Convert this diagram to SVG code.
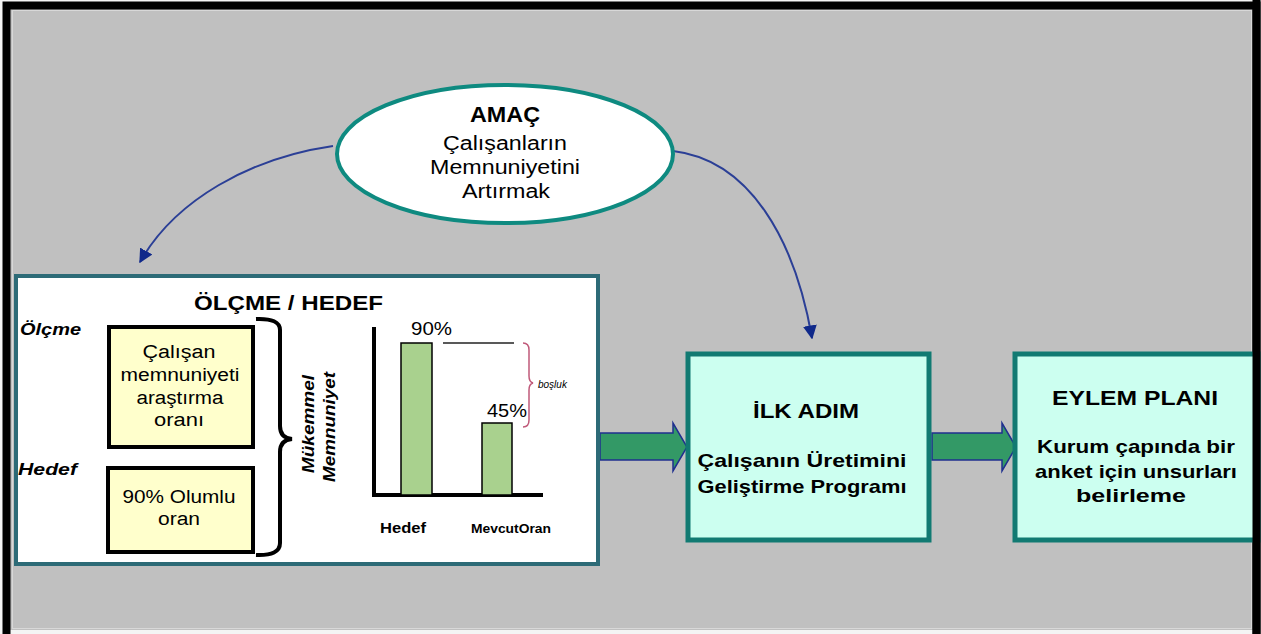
<svg xmlns="http://www.w3.org/2000/svg" width="1261" height="634" viewBox="0 0 1261 634">
<defs>
<style>
text{font-family:"Liberation Sans",Arial,sans-serif;fill:#000}
.b{font-weight:bold}
.c{text-anchor:middle}
.lbl{font-weight:bold;font-style:italic;font-size:17px}
.box{fill:#ffffcc;stroke:#000;stroke-width:4}
.bar{fill:#a9d18e;stroke:#000;stroke-width:1.5}
.step{fill:#ccfff0;stroke:#117a72;stroke-width:5}
.conn{fill:none;stroke:#2b3f96;stroke-width:2}
.fat{fill:#339966;stroke:#1f2f8f;stroke-width:1.5}
</style>
<marker id="ahb" viewBox="0 0 10 10" refX="9" refY="5" markerWidth="14" markerHeight="14" orient="auto" markerUnits="userSpaceOnUse">
<path d="M0,0 L10,5 L0,10 z" fill="#10298a"/>
</marker>
</defs>
<!-- background / frame -->
<rect x="0" y="0" width="1261" height="634" fill="#f4f4f4"/>
<rect x="7" y="6" width="1249" height="624" fill="#c0c0c0"/>
<rect x="12.5" y="10.5" width="1239" height="618" fill="none" stroke="#d8d8d8" stroke-width="1"/>
<path d="M6.5,634 V5.5 H1256.5 V634" fill="none" stroke="#000" stroke-width="8"/>

<g id="connectors">
<path class="conn" d="M333,146 C250,158 175,200 140,262" marker-end="url(#ahb)"/>
<path class="conn" d="M673,151 C750,160 795,240 812,338" marker-end="url(#ahb)"/>
<path class="fat" d="M600,433 H673 V423 L687,447 L673,471 V460 H600 Z"/>
<path class="fat" d="M932,433 H1002 V423 L1016,447 L1002,471 V460 H932 Z"/>
</g>

<g id="amac">
<ellipse cx="505" cy="154" rx="168" ry="69" fill="#ffffff" stroke="#0e8a80" stroke-width="4"/>
<text class="b c" x="505" y="122" font-size="22" textLength="70" lengthAdjust="spacingAndGlyphs">AMAÇ</text>
<text class="c" x="505" y="150" font-size="20" textLength="124" lengthAdjust="spacingAndGlyphs">Çalışanların</text>
<text class="c" x="505" y="174" font-size="20" textLength="150" lengthAdjust="spacingAndGlyphs">Memnuniyetini</text>
<text class="c" x="506" y="198" font-size="20" textLength="88" lengthAdjust="spacingAndGlyphs">Artırmak</text>
</g>

<g id="olcme-hedef">
<rect x="16" y="276" width="582" height="288" fill="#ffffff" stroke="#2d6b77" stroke-width="4"/>
<text class="b" x="194" y="310" font-size="20" textLength="189" lengthAdjust="spacingAndGlyphs">ÖLÇME / HEDEF</text>
<text class="lbl" x="20" y="335" textLength="61" lengthAdjust="spacingAndGlyphs">Ölçme</text>
<text class="lbl" x="18" y="475" textLength="59" lengthAdjust="spacingAndGlyphs">Hedef</text>
<rect class="box" x="109" y="327" width="144" height="120"/>
<text class="c" x="179" y="358" font-size="18" textLength="73" lengthAdjust="spacingAndGlyphs">Çalışan</text>
<text class="c" x="180" y="381" font-size="18" textLength="119" lengthAdjust="spacingAndGlyphs">memnuniyeti</text>
<text class="c" x="180" y="404" font-size="18" textLength="87" lengthAdjust="spacingAndGlyphs">araştırma</text>
<text class="c" x="179" y="426" font-size="18" textLength="50" lengthAdjust="spacingAndGlyphs">oranı</text>
<rect class="box" x="108" y="468" width="145" height="84"/>
<text class="c" x="179" y="503" font-size="18" textLength="113" lengthAdjust="spacingAndGlyphs">90% Olumlu</text>
<text class="c" x="179" y="525" font-size="18" textLength="42" lengthAdjust="spacingAndGlyphs">oran</text>
<path d="M256,319 Q280,318 280,330 V426 Q280,438 292,439 Q280,440 280,452 V543 Q280,556 256,555" fill="none" stroke="#000" stroke-width="4"/>
<text font-style="italic" font-weight="bold" font-size="16" text-anchor="middle" textLength="98" lengthAdjust="spacingAndGlyphs" transform="translate(314,424) rotate(-90)">Mükemmel</text>
<text font-style="italic" font-weight="bold" font-size="16" text-anchor="middle" textLength="110" lengthAdjust="spacingAndGlyphs" transform="translate(335,427) rotate(-90)">Memnuniyet</text>
<path d="M374,327 V495 H543" fill="none" stroke="#000" stroke-width="4"/>
<rect class="bar" x="401" y="343" width="31" height="152"/>
<rect class="bar" x="482" y="423" width="30" height="72"/>
<line x1="443" y1="343" x2="514" y2="343" stroke="#222" stroke-width="1.5"/>
<path d="M523,343 Q529,343 529,350 V376 Q529,382 533,383 Q529,384 529,390 V420 Q529,427 523,427" fill="none" stroke="#c05a7a" stroke-width="1.5"/>
<text x="538" y="388" font-style="italic" font-size="10">boşluk</text>
<text x="411" y="335" font-size="18" textLength="41" lengthAdjust="spacingAndGlyphs">90%</text>
<text x="487" y="417" font-size="18" textLength="40" lengthAdjust="spacingAndGlyphs">45%</text>
<text class="b" x="380" y="533" font-size="15" textLength="46" lengthAdjust="spacingAndGlyphs">Hedef</text>
<text class="b" x="471" y="533" font-size="13" textLength="80" lengthAdjust="spacingAndGlyphs">MevcutOran</text>
</g>

<g id="ilk-adim">
<rect class="step" x="688" y="354" width="241" height="186"/>
<text class="b c" x="806" y="418" font-size="20" textLength="106" lengthAdjust="spacingAndGlyphs">İLK ADIM</text>
<text class="b c" x="802" y="467" font-size="19" textLength="209" lengthAdjust="spacingAndGlyphs">Çalışanın Üretimini</text>
<text class="b c" x="802" y="493" font-size="19" textLength="209" lengthAdjust="spacingAndGlyphs">Geliştirme Programı</text>
</g>

<g id="eylem-plani">
<rect class="step" x="1015" y="354" width="243" height="186"/>
<text class="b c" x="1135" y="405" font-size="20" textLength="166" lengthAdjust="spacingAndGlyphs">EYLEM PLANI</text>
<text class="b c" x="1136" y="453" font-size="19" textLength="198" lengthAdjust="spacingAndGlyphs">Kurum çapında bir</text>
<text class="b c" x="1136" y="478" font-size="19" textLength="202" lengthAdjust="spacingAndGlyphs">anket için unsurları</text>
<text class="b c" x="1131" y="502" font-size="19" textLength="110" lengthAdjust="spacingAndGlyphs">belirleme</text>
</g>
<path d="M1256.5,0 V634" stroke="#000" stroke-width="8"/>
</svg>
